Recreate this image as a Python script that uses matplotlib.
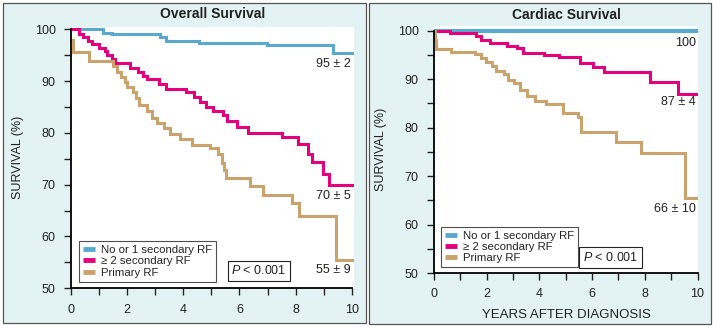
import matplotlib
matplotlib.use("Agg")
import matplotlib.pyplot as plt
from matplotlib.patches import Rectangle
from matplotlib.lines import Line2D
from matplotlib.ticker import MultipleLocator

plt.rcParams['font.family'] = ['Liberation Sans', 'DejaVu Sans']
plt.rcParams['mathtext.fontset'] = 'custom'
plt.rcParams['mathtext.it'] = 'Liberation Sans:italic'
plt.rcParams['mathtext.rm'] = 'Liberation Sans'

# Kaplan-Meier step curves: times (years) where survival changes, survival (%) after each step
series_names = ["No or 1 secondary RF", "\u2265 2 secondary RF", "Primary RF"]
colors = ["#5aa8ce", "#e4007c", "#c9a26c"]

# Overall survival
overall_low_t = [0, 0.62, 1.15, 1.45, 3.17, 3.39, 4.55, 6.97, 9.34]
overall_low_s = [100, 100.0, 99.3, 99.0, 98.5, 97.8, 97.3, 96.9, 95.5]
overall_mid_t = [0, 0.3, 0.44, 0.6, 0.75, 1.0, 1.2, 1.3, 1.45, 1.55, 2.1, 2.4, 2.55, 2.72,
                 3.15, 3.4, 4.08, 4.38, 4.6, 4.8, 5.07, 5.4, 5.55, 5.9, 6.32, 7.51, 8.07,
                 8.45, 8.57, 8.99, 9.2]
overall_mid_s = [100, 99.1, 98.5, 97.8, 97.1, 96.3, 95.9, 95.0, 94.2, 93.5, 92.6, 91.8, 91.0, 90.4,
                 89.5, 88.4, 87.8, 87.0, 86.0, 85.0, 84.3, 83.5, 82.2, 81.2, 80.0, 79.2, 77.8,
                 76.0, 74.4, 72.0, 70.0]
overall_prim_t = [0, 0.06, 0.64, 1.51, 1.63, 1.77, 1.92, 2.0, 2.2, 2.31, 2.42, 2.7, 2.87, 3.05,
                  3.3, 3.53, 3.88, 4.3, 4.95, 5.25, 5.37, 5.45, 5.52, 6.38, 6.85, 7.86, 8.12, 9.44]
overall_prim_s = [98, 95.6, 93.8, 93.0, 91.8, 90.8, 89.9, 88.8, 87.8, 86.7, 85.3, 84.2, 82.9, 81.9,
                  81.0, 79.8, 78.8, 77.7, 77.1, 75.9, 74.2, 72.8, 71.3, 69.7, 68.1, 66.4, 63.9, 55.5]
overall_labels = ["95 \u00b1 2", "70 \u00b1 5", "55 \u00b1 9"]

# Cardiac survival
cardiac_low_t = [0]
cardiac_low_s = [100]
cardiac_mid_t = [0, 0.62, 1.6, 1.77, 2.12, 2.76, 3.14, 3.39, 4.18, 4.75, 5.54, 6.04, 6.45, 8.19, 9.27]
cardiac_mid_s = [100, 99.6, 98.8, 98.1, 97.5, 96.9, 96.4, 95.4, 94.9, 94.5, 93.3, 92.4, 91.4, 89.5, 86.9]
cardiac_prim_t = [0, 0.03, 0.08, 0.64, 1.56, 1.77, 1.96, 2.2, 2.35, 2.65, 2.8, 3.03, 3.28, 3.53,
                  3.85, 4.24, 4.9, 5.45, 5.57, 6.9, 7.87, 9.52]
cardiac_prim_s = [100, 98.0, 96.2, 95.7, 95.2, 94.3, 93.6, 92.7, 91.7, 91.0, 89.8, 89.2, 87.8, 86.6,
                  85.5, 84.9, 83.0, 82.2, 79.0, 77.1, 74.7, 65.5]
cardiac_labels = ["100", "87 \u00b1 4", "66 \u00b1 10"]

follow_up = 10
W, H = 714, 328
bg = "#e3f3f3"
text_col = "#222222"


def px_box(x0, y0, x1, y1):
    """figure-fraction [left, bottom, width, height] from pixel corners (top-left origin)"""
    return [x0 / W, 1 - y1 / H, (x1 - x0) / W, (y1 - y0) / H]


def panel(fig, box):
    x, y, w, h = box
    fig.add_artist(Rectangle((x, y), w, h, transform=fig.transFigure,
                             facecolor=bg, edgecolor="#555555", lw=0.9, zorder=0))


def draw_panel(ax, curves, labels, label_dy, title, title_pad, lw_list, leg_xy, p_xy):
    for (t, s), c, lw in zip(curves, colors, lw_list):
        ax.step(list(t) + [follow_up], list(s) + [s[-1]], where="post",
                color=c, lw=lw, solid_joinstyle="miter")
    # value labels under the right end of each curve
    for (t, s), lab, dy in zip(curves, labels, label_dy):
        ax.annotate(lab, xy=(follow_up, s[-1]), xytext=(-1, dy), textcoords="offset points",
                    ha="right", va="center", fontsize=9, color=text_col)

    ax.set_facecolor("white")
    for side in ["top", "right"]:
        ax.spines[side].set_visible(False)
    ax.spines["left"].set_bounds(50, 100)
    ax.spines["bottom"].set_bounds(0, 10)
    for side in ["left", "bottom"]:
        ax.spines[side].set_linewidth(1.3)
        ax.spines[side].set_color("black")
    ax.xaxis.set_major_locator(MultipleLocator(2))
    ax.xaxis.set_minor_locator(MultipleLocator(1))
    ax.yaxis.set_major_locator(MultipleLocator(10))
    ax.yaxis.set_minor_locator(MultipleLocator(5))
    ax.tick_params(which="both", direction="out", length=5, width=1, color="#222222",
                   labelsize=9, labelcolor=text_col, pad=6)
    ax.set_ylabel("SURVIVAL (%)", fontsize=9, color=text_col, labelpad=8)
    ax.set_title(title, fontsize=10, fontweight="bold", color=text_col, pad=title_pad)

    handles = [Line2D([], [], color=c, lw=3.5, solid_capstyle="butt") for c in colors]
    leg = ax.legend(handles, series_names, loc="lower left", bbox_to_anchor=leg_xy,
                    fontsize=8.2, frameon=True, fancybox=False, handlelength=1.1,
                    handletextpad=0.5, labelspacing=0.12, borderpad=0.35, borderaxespad=0)
    leg.get_frame().set_edgecolor("#222222")
    leg.get_frame().set_linewidth(0.8)
    for txt in leg.get_texts():
        txt.set_color(text_col)

    ax.text(p_xy[0], p_xy[1], "$P$ < 0.001", transform=ax.transAxes, ha="center", va="center",
            fontsize=9, color=text_col,
            bbox=dict(boxstyle="square,pad=0.3", facecolor="white", edgecolor="#222222", lw=0.8))


fig = plt.figure(figsize=(W / 100, H / 100), dpi=100)
panel(fig, px_box(3, 3, 366, 323))
panel(fig, px_box(369, 3, 711, 324))

ax1 = fig.add_axes(px_box(71, 26.7, 354, 288.3))
ax1.set_xlim(0, 10.08)
ax1.set_ylim(50, 100.5)
draw_panel(ax1,
           [(overall_low_t, overall_low_s), (overall_mid_t, overall_mid_s), (overall_prim_t, overall_prim_s)],
           overall_labels, [-8, -8, -7], "Overall Survival", 6.5, [2.2, 2.2, 2.2],
           (0.028, 0.025), (0.664, 0.067))

ax2 = fig.add_axes(px_box(434, 26.3, 698.3, 273))
ax2.set_xlim(0, 10.03)
ax2.set_ylim(50, 100.9)
draw_panel(ax2,
           [(cardiac_low_t, cardiac_low_s), (cardiac_mid_t, cardiac_mid_s), (cardiac_prim_t, cardiac_prim_s)],
           cardiac_labels, [-9, -6, -8], "Cardiac Survival", 5, [3.0, 2.2, 2.2],
           (0.026, 0.023), (0.669, 0.063))
ax2.set_xlabel("YEARS AFTER DIAGNOSIS", fontsize=9.5, color=text_col, labelpad=6)

fig.savefig("out.png", dpi=100)
